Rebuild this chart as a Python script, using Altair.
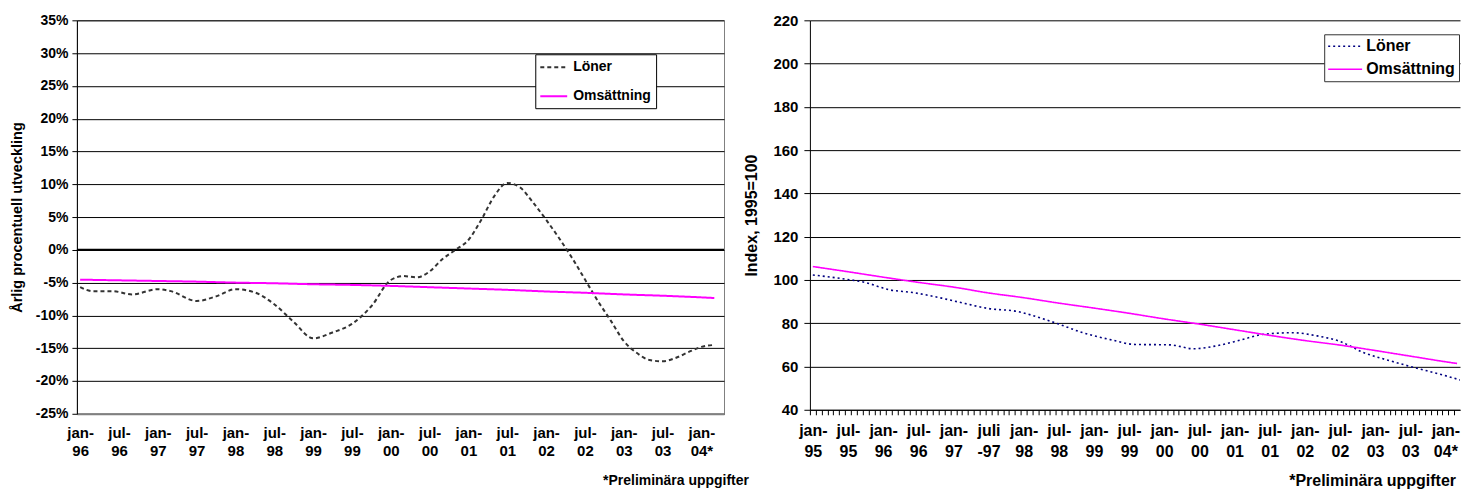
import json
import altair as alt
import pandas as pd

FONT = "Liberation Sans"
SERIES = ["Löner", "Omsättning"]

# ---------------- Left panel: annual percentage change ----------------
left_loner_month = [0, 2, 5, 8, 12, 14, 18, 21, 24, 27, 30, 33, 36, 39, 42, 45, 48, 50, 52, 54,
                    56, 58, 60, 62, 64, 66, 68, 70, 72, 74, 76, 78, 80, 82, 84, 86, 88, 90, 92, 94,
                    96, 98]
left_loner_value = [-5.7, -6.3, -6.3, -6.8, -6.0, -6.3, -7.8, -7.1, -6.0, -6.5, -8.3, -11.0, -13.5, -12.6, -11.3, -8.6, -4.6, -4.0, -4.2, -3.3,
                    -1.4, 0.0, 1.5, 4.6, 8.2, 10.2, 9.5, 7.2, 4.6, 1.8, -1.2, -4.5, -7.8, -10.8, -13.9, -15.7, -16.8, -17.0, -16.5, -15.6,
                    -14.8, -14.5]
left_oms_month = [0, 6, 12, 18, 24, 30, 36, 42, 48, 54, 60, 66, 72, 78, 84, 90, 96, 98]
left_oms_value = [-4.55, -4.65, -4.75, -4.85, -5.0, -5.1, -5.25, -5.35, -5.5, -5.7, -5.9, -6.1, -6.35, -6.55, -6.8, -7.0, -7.25, -7.35]
left_labels = ["jan-\n96", "jul-\n96", "jan-\n97", "jul-\n97", "jan-\n98", "jul-\n98", "jan-\n99", "jul-\n99",
               "jan-\n00", "jul-\n00", "jan-\n01", "jul-\n01", "jan-\n02", "jul-\n02", "jan-\n03", "jul-\n03", "jan-\n04*"]
left_zero = [0]

# ---------------- Right panel: index 1995=100 ----------------
right_loner_month = [0, 5, 9, 13, 17, 22, 26, 30, 35, 39, 42, 46, 51, 55, 61, 65, 69, 73, 77, 82,
                     86, 90, 94, 99, 103, 107, 111]
right_loner_value = [102.3, 100.6, 98.8, 95.5, 94.2, 91.6, 89.1, 86.8, 85.4, 82.3, 79.6, 75.7, 72.3, 70.2, 70.0, 68.2, 69.6, 72.2, 74.9, 75.6,
                     74.2, 71.6, 66.5, 62.3, 59.3, 56.5, 53.4]
right_oms_month = [0, 6, 12, 18, 24, 30, 36, 42, 48, 54, 60, 66, 72, 78, 84, 90, 96, 102, 108, 110]
right_oms_value = [106.2, 103.8, 101.3, 98.9, 96.7, 94.0, 91.8, 89.3, 87.0, 84.6, 82.0, 79.6, 77.0, 74.4, 72.0, 69.9, 67.4, 64.8, 62.2, 61.4]
right_labels = ["jan-\n95", "jul-\n95", "jan-\n96", "jul-\n96", "jan-\n97", "juli\n-97", "jan-\n98", "jul-\n98", "jan-\n99",
                "jul-\n99", "jan-\n00", "jul-\n00", "jan-\n01", "jul-\n01", "jan-\n02", "jul-\n02", "jan-\n03", "jul-\n03", "jan-\n04*"]

footnote = "*Preliminära uppgifter"


def frame(m1, v1, m2, v2):
    return pd.DataFrame({
        "month": list(m1) + list(m2),
        "value": list(v1) + list(v2),
        "series": [SERIES[0]] * len(m1) + [SERIES[1]] * len(m2),
    })


left_df = frame(left_loner_month, left_loner_value, left_oms_month, left_oms_value)
right_df = frame(right_loner_month, right_loner_value, right_oms_month, right_oms_value)


def js_labels(labels):
    return json.dumps([l.split("\n") for l in labels], ensure_ascii=False)


# ---------------- Left chart ----------------
L_W, L_H = 648, 394
left_x = alt.X(
    "month:Q",
    scale=alt.Scale(domain=[-0.5, 99.5], nice=False, zero=False),
    axis=alt.Axis(
        values=list(range(0, 97, 6)),
        labelExpr=f"{js_labels(left_labels)}[round(datum.value/6)]",
        title=None, grid=False, ticks=False,
        domainColor="#808080", domainWidth=2,
        labelFontSize=15, labelLineHeight=18, labelPadding=12,
        labelOverlap=False, labelFlush=False, labelBaseline="top",
    ),
)
left_y = alt.Y(
    "value:Q",
    scale=alt.Scale(domain=[-25, 35], nice=False, zero=False),
    axis=alt.Axis(
        values=list(range(-25, 36, 5)),
        labelExpr="datum.value + '%'",
        title="Årlig procentuell utveckling",
        titleFontSize=14.5, titlePadding=11,
        labelFontSize=14, labelPadding=4, tickSize=5, tickColor="#000",
        domainColor="#000", gridColor="#000", gridWidth=1,
    ),
)
left_legend = alt.Legend(
    title=None, orient="none", legendX=459, legendY=34,
    strokeColor="#000", fillColor="#fff", padding=5,
    symbolType="M-1.14,0H2.71", symbolSize=196, symbolStrokeWidth=2,
    labelFont=FONT, labelFontSize=14, labelFontWeight="bold", labelColor="#000",
    labelOffset=17, rowPadding=14,
)
left_lines = alt.Chart(left_df).mark_line(strokeWidth=2, interpolate="monotone").encode(
    x=left_x,
    y=left_y,
    color=alt.Color("series:N", scale=alt.Scale(domain=SERIES, range=["#333333", "#FF00FF"]), legend=left_legend),
    strokeDash=alt.StrokeDash("series:N", scale=alt.Scale(domain=SERIES, range=[[4, 3], [1, 0]]), legend=left_legend),
)
left_rule = alt.Chart(pd.DataFrame({"value": left_zero})).mark_rule(color="#000", strokeWidth=2).encode(y=left_y)
left = alt.layer(left_rule, left_lines).properties(
    width=L_W, height=L_H,
    view=alt.ViewBackground(stroke="#808080", strokeWidth=1),
    title=alt.TitleParams(footnote, orient="bottom", anchor="end", font=FONT, fontSize=14,
                          fontWeight="bold", color="#000", dx=24, offset=15),
)

# ---------------- Right chart ----------------
R_W, R_H = 651, 390
R_DOMAIN = [-0.5, 110.5]
half = R_W / (R_DOMAIN[1] - R_DOMAIN[0]) / 2
right_x = alt.X(
    "month:Q",
    scale=alt.Scale(domain=R_DOMAIN, nice=False, zero=False),
    axis=alt.Axis(
        values=list(range(0, 111)),
        labelExpr=f"datum.value % 6 == 0 ? {js_labels(right_labels)}[round(datum.value/6)] : ''",
        title=None, grid=False, ticks=True, tickSize=5, tickColor="#000",
        tickOffset=-half, labelOffset=half,
        domainColor="#000", domainWidth=1,
        labelFontSize=16, labelLineHeight=21, labelPadding=8,
        labelOverlap=False, labelFlush=False, labelBaseline="top",
    ),
)
right_y = alt.Y(
    "value:Q",
    scale=alt.Scale(domain=[40, 220], nice=False, zero=False),
    axis=alt.Axis(
        values=list(range(40, 221, 20)),
        title="Index, 1995=100",
        titleFontSize=16, titlePadding=13,
        labelFontSize=15, labelPadding=6, tickSize=6, tickColor="#000",
        domainColor="#000", gridColor="#000", gridWidth=1,
    ),
)
right_legend = alt.Legend(
    title=None, orient="none", legendX=515, legendY=14,
    strokeColor="#333", fillColor="#fff", padding=4,
    symbolType="M-1.143,0H3.714", symbolSize=196, symbolStrokeWidth=1.5,
    labelFont=FONT, labelFontSize=16, labelFontWeight="bold", labelColor="#000",
    labelOffset=22, rowPadding=7,
)
right = alt.Chart(right_df).mark_line(strokeWidth=1.6, interpolate="monotone", clip=True).encode(
    x=right_x,
    y=right_y,
    color=alt.Color("series:N", scale=alt.Scale(domain=SERIES, range=["#000080", "#FF00FF"]), legend=right_legend),
    strokeDash=alt.StrokeDash("series:N", scale=alt.Scale(domain=SERIES, range=[[2, 3], [1, 0]]), legend=right_legend),
).properties(
    width=R_W, height=R_H,
    view=alt.ViewBackground(stroke="transparent"),
    title=alt.TitleParams(footnote, orient="bottom", anchor="end", font=FONT, fontSize=16,
                          fontWeight="bold", color="#000", dx=-4, offset=13),
)

chart = alt.hconcat(left, right, spacing=86, bounds="flush").resolve_scale(
    color="independent", strokeDash="independent", x="independent", y="independent"
).properties(
    padding={"left": 0, "top": 4, "right": 0, "bottom": 0},
).configure_axis(
    labelFont=FONT, labelFontWeight="bold", labelColor="#000",
    titleFont=FONT, titleFontWeight="bold", titleColor="#000",
).configure_view(stroke="#808080")

chart.save("out.html", embed_options={"renderer": "svg", "actions": False})
